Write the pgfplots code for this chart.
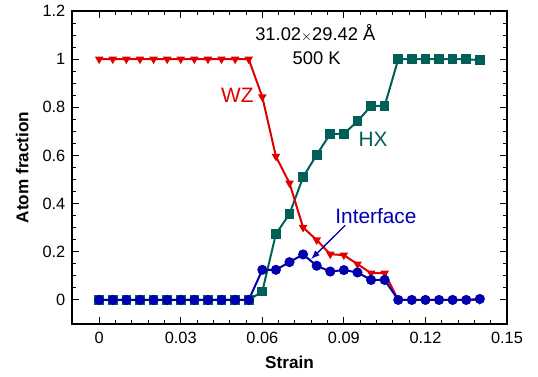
\documentclass[border=0pt]{standalone}
\usepackage{pgfplots}
\pgfplotsset{compat=1.18}
\usepackage{fontspec}
\setmainfont{Liberation Sans}
\definecolor{cred}{RGB}{225,0,0}
\definecolor{cteal}{RGB}{0,96,88}
\definecolor{cblue}{RGB}{0,0,175}
\begin{document}
\begin{tikzpicture}
\begin{axis}[
  name=ax,
  scale only axis,
  width=261pt, height=187.8pt,
  xmin=-0.01, xmax=0.15, ymin=-0.1, ymax=1.2,
  xtick={0,0.03,0.06,0.09,0.12,0.15},
  xticklabels={0,0.03,0.06,0.09,0.12,0.15},
  ytick={0,0.2,0.4,0.6,0.8,1,1.2},
  yticklabels={0,0.2,0.4,0.6,0.8,1,1.2},
  minor x tick num=4, minor y tick num=3,
  tick align=inside,
  major tick length=4.2pt, minor tick length=2.4pt,
  every tick/.style={black, line width=0.6pt},
  axis line style={line width=1.1pt},
  tick label style={font=\fontsize{9.8}{11}\selectfont},
  xticklabel style={yshift=-1.5pt},
  yticklabel style={xshift=-0.5pt},
  xlabel={\textbf{Strain}},
  ylabel={\textbf{Atom fraction}},
  label style={font=\fontsize{10.3}{12}\selectfont},
  xlabel style={yshift=-0.5pt},
  ylabel style={yshift=1.5pt},
  /pgf/number format/assume math mode=true,
  clip=false,
]
\addplot[cteal, line width=1.2pt, mark=square*, mark size=2.3pt] coordinates {
(0,0)(0.005,0)(0.01,0)(0.015,0)(0.02,0)(0.025,0)(0.03,0)(0.035,0)(0.04,0)(0.045,0)(0.05,0)(0.055,0)
(0.06,0.035)(0.065,0.274)(0.07,0.357)(0.075,0.51)(0.08,0.603)(0.085,0.69)(0.09,0.69)(0.095,0.742)
(0.1,0.806)(0.105,0.806)(0.11,1.0)(0.115,1.0)(0.12,1.0)(0.125,1.0)(0.13,1.0)(0.135,1.0)(0.14,0.996)};
\addplot[cred, line width=1.2pt, mark=triangle*, mark size=1.8pt, mark options={rotate=180}] coordinates {
(0,1)(0.005,1)(0.01,1)(0.015,1)(0.02,1)(0.025,1)(0.03,1)(0.035,1)(0.04,1)(0.045,1)(0.05,1)(0.055,1)
(0.06,0.843)(0.065,0.596)(0.07,0.485)(0.075,0.301)(0.08,0.249)(0.085,0.19)(0.09,0.186)(0.095,0.149)
(0.1,0.111)(0.105,0.111)(0.11,0)(0.115,0)(0.12,0)(0.125,0)(0.13,0)(0.135,0)(0.14,0)};
\addplot[cblue, line width=1.2pt, mark=*, mark size=2.4pt] coordinates {
(0,0)(0.005,0)(0.01,0)(0.015,0)(0.02,0)(0.025,0)(0.03,0)(0.035,0)(0.04,0)(0.045,0)(0.05,0)(0.055,0)
(0.06,0.125)(0.065,0.125)(0.07,0.157)(0.075,0.189)(0.08,0.142)(0.085,0.118)(0.09,0.124)(0.095,0.114)
(0.1,0.083)(0.105,0.083)(0.11,0)(0.115,0)(0.12,0)(0.125,0)(0.13,0)(0.135,0)(0.14,0.004)};
\node[font=\fontsize{11}{13}\selectfont] at (axis cs:0.0795,1.108) {31.02{\fontsize{8}{9}\selectfont$\times$}29.42 Å};
\node[font=\fontsize{11}{13}\selectfont] at (axis cs:0.080,1.004) {500 K};
\node[font=\fontsize{12.5}{14}\selectfont, text=cred] at (axis cs:0.0508,0.85) {WZ};
\node[font=\fontsize{12.5}{14}\selectfont, text=cteal] at (axis cs:0.1007,0.665) {HX};
\node[font=\fontsize{12.5}{14}\selectfont, text=cblue] at (axis cs:0.1018,0.35) {Interface};
\draw[cblue, line width=0.8pt, -latex] (axis cs:0.0905,0.31) -- (axis cs:0.078,0.17);
\end{axis}
\pgfresetboundingbox
\path ([shift={(-43.2pt,-31.2pt)}]ax.south west) rectangle ([shift={(18.6pt,6.6pt)}]ax.north east);
\end{tikzpicture}
\end{document}
